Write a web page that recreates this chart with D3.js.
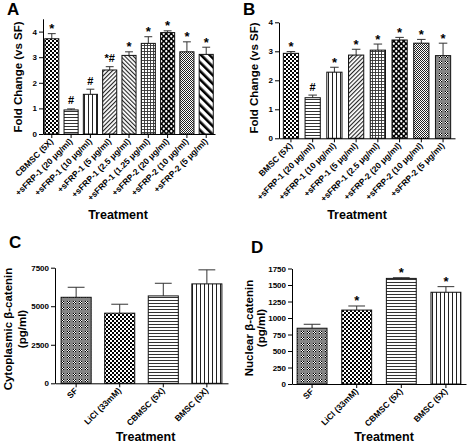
<!DOCTYPE html>
<html><head><meta charset="utf-8">
<script src="https://cdn.jsdelivr.net/npm/d3@7/dist/d3.min.js"></script>
<style>
html,body{margin:0;padding:0;background:#fff;}
svg{display:block;font-family:"Liberation Sans",Arial,sans-serif;}
</style></head>
<body>
<svg id="chart" width="468" height="444"></svg>
<script>
// ---------- DATA ----------
const catsA = ["CBMSC (5X)", "+sFRP-1 (20 \u03bcg/ml)", "+sFRP-1 (10 \u03bcg/ml)", "+sFRP-1 (5 \u03bcg/ml)", "+sFRP-1 (2.5 \u03bcg/ml)", "+sFRP-1 (1.25 \u03bcg/ml)", "+sFRP-2 (20 \u03bcg/ml)", "+sFRP-2 (10 \u03bcg/ml)", "+sFRP-2 (5 \u03bcg/ml)"];
const meanA = [3.72, 0.94, 1.55, 2.50, 3.07, 3.54, 3.96, 3.21, 3.11];
const semA  = [0.20, 0.04, 0.20, 0.13, 0.14, 0.26, 0.07, 0.39, 0.28];
const sigA  = ["*", "#", "#", "*#", "*", "*", "*", "*", "*"];
const ticksA = [0, 1, 2, 3, 4];

const catsB = ["BMSC (5X)", "+sFRP-1 (20 \u03bcg/ml)", "+sFRP-1 (10 \u03bcg/ml)", "+sFRP-1 (5 \u03bcg/ml)", "+sFRP-1 (2.5 \u03bcg/ml)", "+sFRP-2 (20 \u03bcg/ml)", "+sFRP-2 (10 \u03bcg/ml)", "+sFRP-2 (5 \u03bcg/ml)"];
const meanB = [2.93, 1.40, 2.28, 2.87, 3.04, 3.39, 3.28, 2.85];
const semB  = [0.06, 0.09, 0.17, 0.20, 0.21, 0.09, 0.13, 0.43];
const sigB  = ["*", "#", "*", "*", "*", "*", "*", "*"];
const ticksB = [0, 1, 2, 3, 4];

const catsC = ["SF", "LiCl (33mM)", "CBMSC (5X)", "BMSC (5X)"];
const meanC = [5580, 4550, 5670, 6450];
const semC  = [650, 580, 820, 910];
const sigC  = ["", "", "", ""];
const ticksC = [0, 2500, 5000, 7500];

const catsD = ["SF", "LiCl (33mM)", "CBMSC (5X)", "BMSC (5X)"];
const meanD = [845, 1120, 1600, 1390];
const semD  = [60, 62, 10, 85];
const sigD  = ["", "*", "*", "*"];
const ticksD = [0, 250, 500, 750, 1000, 1250, 1500, 1750];

// ---------- STYLE ----------
const svg = d3.select("#chart");
const defs = svg.append("defs");
function pat(id, w, h, draw, tr) {
  const p = defs.append("pattern").attr("id", id).attr("patternUnits", "userSpaceOnUse")
    .attr("width", w).attr("height", h);
  if (tr) p.attr("patternTransform", tr);
  draw(p);
}
function rect(p, x, y, w, h, f) { p.append("rect").attr("x", x).attr("y", y).attr("width", w).attr("height", h).attr("fill", f); }
pat("checker", 4, 4, p => { rect(p,0,0,4,4,"#fff"); rect(p,0,0,2,2,"#000"); rect(p,2,2,2,2,"#000"); });
pat("hlines", 3, 3, p => { rect(p,0,0,3,3,"#fff"); rect(p,0,0,3,1,"#333"); });
pat("vlines", 4, 4, p => { rect(p,0,0,4,4,"#fff"); rect(p,0,0,1,4,"#222"); });
pat("diagR", 3, 3, p => { rect(p,0,0,3,3,"#fff"); rect(p,0,0,1.1,3,"#222"); }, "rotate(45)");
pat("diagL", 3, 3, p => { rect(p,0,0,3,3,"#fff"); rect(p,0,0,1.1,3,"#222"); }, "rotate(-45)");
pat("grid", 3, 3, p => { rect(p,0,0,3,3,"#fff"); rect(p,0,0,3,0.9,"#333"); rect(p,0,0,0.9,3,"#333"); });
pat("bigdots", 5, 5, p => { rect(p,0,0,5,5,"#000");
  p.append("circle").attr("cx",1.25).attr("cy",1.25).attr("r",1.15).attr("fill","#fff");
  p.append("circle").attr("cx",3.75).attr("cy",3.75).attr("r",1.15).attr("fill","#fff"); });
pat("fine", 2, 2, p => { rect(p,0,0,2,2,"#fff"); rect(p,0,0,1,1,"#222"); rect(p,1,1,1,1,"#222"); });
pat("wideDiag", 6, 6, p => { rect(p,0,0,6,6,"#fff"); rect(p,0,0,2.6,6,"#000"); }, "rotate(-45)");
pat("sfgray", 6, 6, p => { rect(p,0,0,6,6,"#858585"); rect(p,1,1,3,3,"#fff");
  rect(p,1,1,1,1,"#000"); rect(p,3,1,1,1,"#000"); rect(p,2,2,1,1,"#000"); rect(p,1,3,1,1,"#000"); rect(p,3,3,1,1,"#000"); });

const patsA = ["checker","hlines","vlines","diagR","diagL","grid","bigdots","fine","wideDiag"];
const patsB = ["checker","hlines","vlines","diagR","grid","bigdots","fine","sfgray"];
const patsCD = ["sfgray","checker","hlines","vlines"];

function panel(o) {
  const g = svg.append("g");
  const x = d3.scaleBand().domain(o.cats).range(o.xr).paddingInner(o.pi).paddingOuter(o.po);
  const y = d3.scaleLinear().domain([0, o.ymax]).range(o.yr);
  // bars
  o.cats.forEach((c, i) => {
    const bx = x(c), bw = x.bandwidth(), cx = bx + bw / 2;
    const top = y(o.mean[i]), et = y(o.mean[i] + o.sem[i]);
    g.append("line").attr("x1", cx).attr("x2", cx).attr("y1", top).attr("y2", et).attr("stroke", "#333").attr("stroke-width", 1);
    g.append("line").attr("x1", cx - bw * 0.28).attr("x2", cx + bw * 0.28).attr("y1", et).attr("y2", et).attr("stroke", "#333").attr("stroke-width", 1);
    g.append("rect").attr("x", bx).attr("y", top).attr("width", bw).attr("height", y(0) - top)
      .attr("fill", "url(#" + o.pats[i] + ")").attr("stroke", "#111").attr("stroke-width", 1);
    const s = o.sig[i];
    if (s) {
      const hasHash = s.indexOf("#") >= 0;
      g.append("text").attr("x", cx).attr("y", et - (hasHash ? 4.5 : 0.5))
        .attr("text-anchor", "middle").attr("font-weight", "bold")
        .attr("font-size", hasHash ? 11 : 13).text(s);
    }
  });
  // axes
  const ya = d3.axisLeft(y).tickValues(o.ticks).tickFormat(d3.format("d")).tickSize(4).tickPadding(2).tickSizeOuter(0);
  const yg = g.append("g").attr("transform", `translate(${o.xr[0]},0)`).call(ya);
  yg.selectAll("text").attr("font-size", 8).attr("font-weight", "bold").attr("font-family", "Liberation Sans, Arial, sans-serif").attr("fill", "#000");
  yg.selectAll("line,path").attr("stroke", "#000");
  const xa = d3.axisBottom(x).tickSize(4).tickSizeOuter(0).tickFormat("");
  const xg = g.append("g").attr("transform", `translate(0,${o.yr[0]})`).call(xa);
  xg.selectAll("line,path").attr("stroke", "#000");
  o.cats.forEach(c => {
    const cx = x(c) + x.bandwidth() / 2;
    g.append("text").attr("transform", `translate(${cx + o.lx},${o.yr[0] + o.ly}) rotate(-45)`)
      .attr("text-anchor", "end").attr("font-size", 8.5).attr("font-weight", "bold").text(c);
  });
  // titles
  g.append("text").attr("x", o.tx).attr("y", o.ty).attr("text-anchor", "middle")
    .attr("font-size", 12.5).attr("font-weight", "bold").text("Treatment");
  o.ytitle.forEach((t, k) => {
    g.append("text").attr("transform", `translate(${o.ytx[k]},${o.yty}) rotate(-90)`)
      .attr("text-anchor", "middle").attr("font-size", 11.5).attr("font-weight", "bold").text(t);
  });
  g.append("text").attr("x", o.lab[0]).attr("y", o.lab[1]).attr("font-size", 17).attr("font-weight", "bold").text(o.label);
}

panel({cats: catsA, mean: meanA, sem: semA, sig: sigA, ticks: ticksA, pats: patsA,
  xr: [43, 215], pi: 0.27, po: 0.09, ymax: 4.5, yr: [134, 18.8], lx: 2, ly: 8,
  tx: 118, ty: 219, ytitle: ["Fold Change (vs SF)"], ytx: [21.5], yty: 77, label: "A", lab: [7, 15]});
panel({cats: catsB, mean: meanB, sem: semB, sig: sigB, ticks: ticksB, pats: patsB,
  xr: [279, 455], pi: 0.3, po: 0.2, ymax: 4, yr: [138.3, 22.3], lx: 2, ly: 8,
  tx: 357, ty: 219, ytitle: ["Fold Change (vs SF)"], ytx: [258], yty: 78, label: "B", lab: [243, 15]});
panel({cats: catsC, mean: meanC, sem: semC, sig: sigC, ticks: ticksC, pats: patsCD,
  xr: [55, 228], pi: 0.31, po: 0.14, ymax: 7500, yr: [383.3, 267.7], lx: 2, ly: 8,
  tx: 145.5, ty: 441, ytitle: ["Cytoplasmic \u03b2-catenin", "(pg/ml)"], ytx: [12, 26], yty: 329, label: "C", lab: [9, 248]});
panel({cats: catsD, mean: meanD, sem: semD, sig: sigD, ticks: ticksD, pats: patsCD,
  xr: [292, 466], pi: 0.33, po: 0.115, ymax: 1750, yr: [384, 268.5], lx: 2, ly: 8,
  tx: 384, ty: 441, ytitle: ["Nuclear \u03b2-catenin", "(pg/ml)"], ytx: [253, 265], yty: 328, label: "D", lab: [251, 253]});
</script>
</body></html>
